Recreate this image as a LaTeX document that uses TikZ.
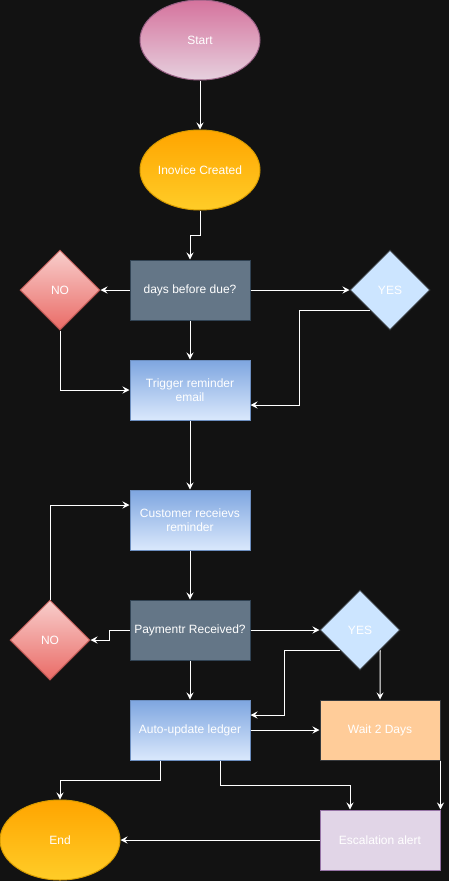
\documentclass[tikz,border=0pt]{standalone}
\usepackage{fontspec}
\setmainfont{Liberation Sans}
\usetikzlibrary{shapes.geometric,arrows.meta,calc}
\definecolor{bg}{HTML}{121212}
\definecolor{pinkA}{HTML}{D5739D}
\definecolor{pinkB}{HTML}{E6D0DE}
\definecolor{pinkS}{HTML}{996185}
\definecolor{orA}{HTML}{FFA500}
\definecolor{orB}{HTML}{FFCD28}
\definecolor{orS}{HTML}{D79B00}
\definecolor{greyF}{HTML}{647687}
\definecolor{greyS}{HTML}{314354}
\definecolor{redA}{HTML}{F8CECC}
\definecolor{redB}{HTML}{EA6B66}
\definecolor{redS}{HTML}{B85450}
\definecolor{yesF}{HTML}{CCE5FF}
\definecolor{darkS}{HTML}{36393D}
\definecolor{blueA}{HTML}{7EA6E0}
\definecolor{blueB}{HTML}{DAE8FC}
\definecolor{blueS}{HTML}{6C8EBF}
\definecolor{waitF}{HTML}{FFCC99}
\definecolor{escF}{HTML}{E1D5E7}
\definecolor{escS}{HTML}{9673A6}
\begin{document}
\begin{tikzpicture}[x=1pt,y=-1pt,
  base/.style={text=white,font=\fontsize{12}{14}\selectfont,align=center,inner sep=0pt,line width=1pt},
  oval/.style={base,ellipse,minimum width=120pt,minimum height=80pt},
  startov/.style={oval,draw=pinkS,top color=pinkA,bottom color=pinkB},
  orov/.style={oval,draw=orS,top color=orA,bottom color=orB},
  box/.style={base,rectangle,minimum width=120pt,minimum height=60pt},
  greybox/.style={box,draw=greyS,fill=greyF},
  bluebox/.style={box,draw=blueS,top color=blueA,bottom color=blueB},
  waitbox/.style={box,draw=darkS,fill=waitF},
  escbox/.style={box,draw=escS,fill=escF},
  dia/.style={base,diamond,minimum width=80pt,minimum height=80pt},
  nodia/.style={dia,draw=redS,top color=redA,bottom color=redB},
  yesdia/.style={dia,draw=darkS,fill=yesF},
  conn/.style={draw=white,line width=1pt,-{Stealth[length=7pt,width=7pt,inset=2.5pt]}}
]
\fill[bg] (0,0) rectangle (449,881);
\useasboundingbox (0,0) rectangle (449,881);

\node[startov] (start) at (200,40) {Start};
\node[orov] (inv) at (200,170) {Inovice Created};
\node[greybox] (days) at (190,290) {days before due?};
\node[nodia] (no1) at (60,290) {NO};
\node[yesdia] (yes1) at (390,290) {YES};
\node[bluebox] (trig) at (190,390) {Trigger reminder\\email};
\node[bluebox] (cust) at (190,520) {Customer receievs\\reminder};
\node[greybox] (pay) at (190,630) {Paymentr Received?};
\node[nodia] (no2) at (50,640) {NO};
\node[yesdia] (yes2) at (360,630) {YES};
\node[bluebox] (auto) at (190,730) {Auto-update ledger};
\node[waitbox] (wait) at (380,730) {Wait 2 Days};
\node[escbox] (esc) at (380,840) {Escalation alert};
\node[orov] (end) at (60,840) {End};

\draw[conn] (start) -- (inv);
\draw[conn] (inv.south) -- ++(0,25) -| (days.north);
\draw[conn] (days.west) -- (no1.east);
\draw[conn] (days.east) -- (yes1.west);
\draw[conn] (days.south) -- (trig.north);
\draw[conn] (no1.south) |- (trig.west);
\draw[conn] (yes1.south west) -- ++(-70,0) |- ($(trig.east)+(0,15)$);
\draw[conn] (trig.south) -- (cust.north);
\draw[conn] (cust.south) -- (pay.north);
\draw[conn] (pay.west) -- ++(-20,0) |- (no2.east);
\draw[conn] (no2.north) |- ($(cust.west)+(0,-15)$);
\draw[conn] (pay.east) -- (yes2.west);
\draw[conn] (yes2.south west) -- ++(-55,0) |- ($(auto.east)+(0,-15)$);
\draw[conn] (yes2.south east) -- (wait.north);
\draw[conn] (pay.south) -- (auto.north);
\draw[conn] (auto.east) -- (wait.west);
\draw[conn] ($(auto.south)+(-30,0)$) -- ++(0,20) -| (end.north);
\draw[conn] ($(auto.south)+(30,0)$) -- ++(0,25) -| ($(esc.north)+(-30,0)$);
\draw[conn] (wait.south east) -- (esc.north east);
\draw[conn] (esc.west) -- (end.east);
\end{tikzpicture}
\end{document}
